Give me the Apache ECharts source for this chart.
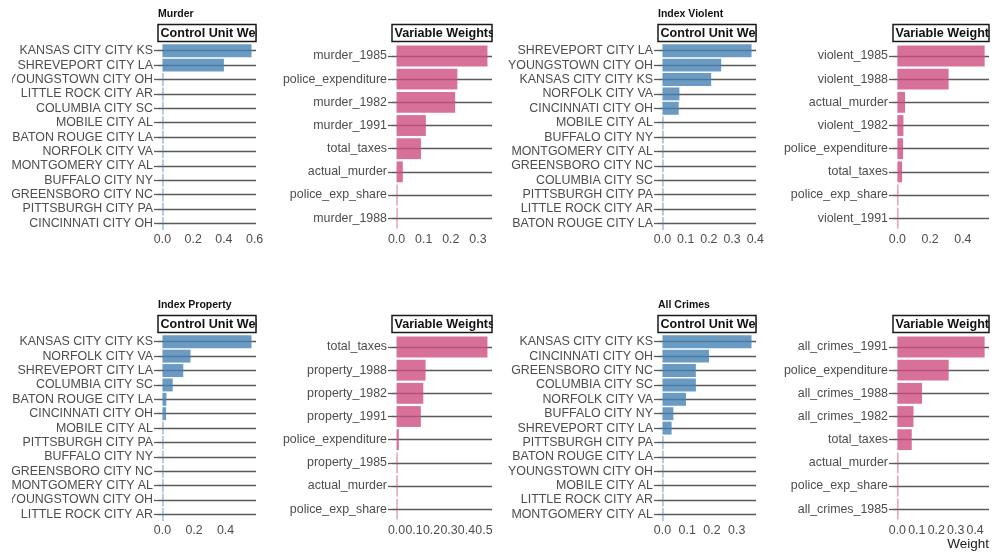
<!DOCTYPE html>
<html>
<head>
<meta charset="utf-8">
<script src="https://cdn.jsdelivr.net/npm/echarts@6/dist/echarts.min.js"></script>
<style>
html, body { margin: 0; padding: 0; background: #fff; }
#chart { width: 992px; height: 552px; }
</style>
</head>
<body>
<div id="chart"></div>
<script>
// control units and their weights (top to bottom)
var murderUnits = ['KANSAS CITY CITY KS', 'SHREVEPORT CITY LA', 'YOUNGSTOWN CITY OH', 'LITTLE ROCK CITY AR', 'COLUMBIA CITY SC', 'MOBILE CITY AL', 'BATON ROUGE CITY LA', 'NORFOLK CITY VA', 'MONTGOMERY CITY AL', 'BUFFALO CITY NY', 'GREENSBORO CITY NC', 'PITTSBURGH CITY PA', 'CINCINNATI CITY OH'];
var murderUnitW = [0.58, 0.40, 0.0018, 0.0018, 0.0018, 0.0018, 0.0018, 0.0018, 0.0018, 0.0018, 0.0018, 0.0018, 0.0018];
var murderVars = ['murder_1985', 'police_expenditure', 'murder_1982', 'murder_1991', 'total_taxes', 'actual_murder', 'police_exp_share', 'murder_1988'];
var murderVarW = [0.335, 0.224, 0.216, 0.108, 0.09, 0.023, 0.002, 0.002];

var violentUnits = ['SHREVEPORT CITY LA', 'YOUNGSTOWN CITY OH', 'KANSAS CITY CITY KS', 'NORFOLK CITY VA', 'CINCINNATI CITY OH', 'MOBILE CITY AL', 'BUFFALO CITY NY', 'MONTGOMERY CITY AL', 'GREENSBORO CITY NC', 'COLUMBIA CITY SC', 'PITTSBURGH CITY PA', 'LITTLE ROCK CITY AR', 'BATON ROUGE CITY LA'];
var violentUnitW = [0.384, 0.253, 0.21, 0.073, 0.07, 0.001, 0.001, 0.001, 0.001, 0.001, 0.001, 0.001, 0.001];
var violentVars = ['violent_1985', 'violent_1988', 'actual_murder', 'violent_1982', 'police_expenditure', 'total_taxes', 'police_exp_share', 'violent_1991'];
var violentVarW = [0.533, 0.313, 0.047, 0.037, 0.035, 0.029, 0.003, 0.003];

var propertyUnits = ['KANSAS CITY CITY KS', 'NORFOLK CITY VA', 'SHREVEPORT CITY LA', 'COLUMBIA CITY SC', 'BATON ROUGE CITY LA', 'CINCINNATI CITY OH', 'MOBILE CITY AL', 'PITTSBURGH CITY PA', 'BUFFALO CITY NY', 'GREENSBORO CITY NC', 'MONTGOMERY CITY AL', 'YOUNGSTOWN CITY OH', 'LITTLE ROCK CITY AR'];
var propertyUnitW = [0.565, 0.178, 0.132, 0.065, 0.025, 0.023, 0.0013, 0.0013, 0.0013, 0.0013, 0.0013, 0.0013, 0.0013];
var propertyVars = ['total_taxes', 'property_1988', 'property_1982', 'property_1991', 'police_expenditure', 'property_1985', 'actual_murder', 'police_exp_share'];
var propertyVarW = [0.52, 0.166, 0.153, 0.139, 0.013, 0.005, 0.003, 0.002];

var allUnits = ['KANSAS CITY CITY KS', 'CINCINNATI CITY OH', 'GREENSBORO CITY NC', 'COLUMBIA CITY SC', 'NORFOLK CITY VA', 'BUFFALO CITY NY', 'SHREVEPORT CITY LA', 'PITTSBURGH CITY PA', 'BATON ROUGE CITY LA', 'YOUNGSTOWN CITY OH', 'MOBILE CITY AL', 'LITTLE ROCK CITY AR', 'MONTGOMERY CITY AL'];
var allUnitW = [0.36, 0.188, 0.135, 0.135, 0.095, 0.044, 0.037, 0.001, 0.001, 0.001, 0.001, 0.001, 0.001];
var allVars = ['all_crimes_1991', 'police_expenditure', 'all_crimes_1988', 'all_crimes_1982', 'total_taxes', 'actual_murder', 'police_exp_share', 'all_crimes_1985'];
var allVarW = [0.449, 0.264, 0.127, 0.083, 0.074, 0.001, 0.001, 0.001];

var outcomeTitles = ['Murder', 'Index Violent', 'Index Property', 'All Crimes'];
var stripTitles = ['Control Unit Weights', 'Variable Weights'];

var chart = echarts.init(document.getElementById('chart'));
window.onresize = function () { chart.resize(); };

var BLUE = 'rgba(70,130,180,0.8)';
var PINK = 'rgba(205,77,129,0.8)';
var colLeft = [158, 392, 658, 893];
var colWidth = [98, 100, 98, 96];
var rowTop = [42.1, 333.1];
var panelH = 190;
var font = '"Liberation Sans", Arial, sans-serif';

var panels = [
    { cats: murderUnits, vals: murderUnitW, step: 0.2, row: 0, col: 0, title: outcomeTitles[0] },
    { cats: murderVars, vals: murderVarW, step: 0.1, row: 0, col: 1 },
    { cats: violentUnits, vals: violentUnitW, step: 0.1, row: 0, col: 2, title: outcomeTitles[1] },
    { cats: violentVars, vals: violentVarW, step: 0.2, row: 0, col: 3 },
    { cats: propertyUnits, vals: propertyUnitW, step: 0.2, row: 1, col: 0, title: outcomeTitles[2] },
    { cats: propertyVars, vals: propertyVarW, step: 0.1, row: 1, col: 1 },
    { cats: allUnits, vals: allUnitW, step: 0.1, row: 1, col: 2, title: outcomeTitles[3] },
    { cats: allVars, vals: allVarW, step: 0.1, row: 1, col: 3 }
];

var grids = [], xAxes = [], yAxes = [], series = [], graphics = [];

panels.forEach(function (p, i) {
    var n = p.cats.length;
    var unit = panelH / (n + 0.2);
    var top = rowTop[p.row];
    var left = colLeft[p.col];
    var w = colWidth[p.col];
    var isUnit = p.col % 2 === 0;
    var m = Math.max.apply(null, p.vals);
    var ticks = [];
    for (var k = 0; k * p.step <= m * 1.05 + 1e-9; k++) ticks.push(+(k * p.step).toFixed(2));

    grids.push({ left: left, top: top + 0.1 * unit, width: w, height: n * unit });
    xAxes.push({
        type: 'value', gridIndex: i,
        min: -0.05 * m, max: 1.05 * m,
        axisLine: { show: false }, axisTick: { show: false }, splitLine: { show: false },
        axisLabel: {
            customValues: ticks,
            formatter: function (v) { return v.toFixed(1); },
            color: '#4d4d4d', fontSize: 12.4, fontFamily: font,
            margin: 1.5 + 0.1 * unit
        }
    });
    yAxes.push({
        type: 'category', gridIndex: i, data: p.cats, inverse: true,
        axisLine: { show: false, onZero: false },
        axisTick: { show: true, interval: 0, alignWithLabel: true, length: 4, lineStyle: { color: '#5a5a5a', width: 1.3 } },
        axisLabel: { interval: 0, color: '#4d4d4d', fontSize: 12.4, fontFamily: font, margin: 5 },
        splitLine: { show: true, interval: 0, alignWithLabel: true, lineStyle: { color: '#5a5a5a', width: 1.3 } }
    });
    series.push({
        type: 'bar', xAxisIndex: i, yAxisIndex: i,
        data: p.vals, barCategoryGap: '10%', barMinHeight: 1,
        itemStyle: { color: isUnit ? BLUE : PINK },
        silent: true
    });

    // facet strip: text runs past the box and is cut at its right edge
    graphics.push({
        type: 'group', x: left, y: top - 17.5, z: 100,
        children: [
            { type: 'rect', shape: { x: 0, y: 0, width: w, height: 17 }, style: { fill: '#fff' }, z: 100 },
            { type: 'text', x: 2.5, y: 9, z: 101,
              style: { text: stripTitles[isUnit ? 0 : 1], fill: '#111', fontSize: 12.6, fontWeight: 'bold',
                       fontFamily: font, verticalAlign: 'middle' } },
            { type: 'rect', shape: { x: w + 0.8, y: -1, width: 40, height: 19 }, style: { fill: '#fff' }, z: 102 },
            { type: 'rect', shape: { x: 0, y: 0, width: w, height: 17 },
              style: { fill: 'none', stroke: '#1a1a1a', lineWidth: 1.5 }, z: 103 }
        ]
    });
    if (p.title) {
        graphics.push({
            type: 'text', left: left, top: top - 33,
            style: { text: p.title, fill: '#111', fontSize: 10.5, fontWeight: 'bold', fontFamily: font }
        });
    }
});

// long unit names are cut at the left margin
graphics.push({ type: 'rect', x: 0, y: 0, z: 100, shape: { x: 0, y: 0, width: 12, height: 552 }, style: { fill: '#fff' } });

graphics.push({
    type: 'text', right: 3, top: 537,
    style: { text: 'Weight', fill: '#1a1a1a', fontSize: 13.5, fontFamily: font }
});

chart.setOption({
    animation: false,
    backgroundColor: '#fff',
    grid: grids,
    xAxis: xAxes,
    yAxis: yAxes,
    series: series,
    graphic: graphics
});
</script>
</body>
</html>
